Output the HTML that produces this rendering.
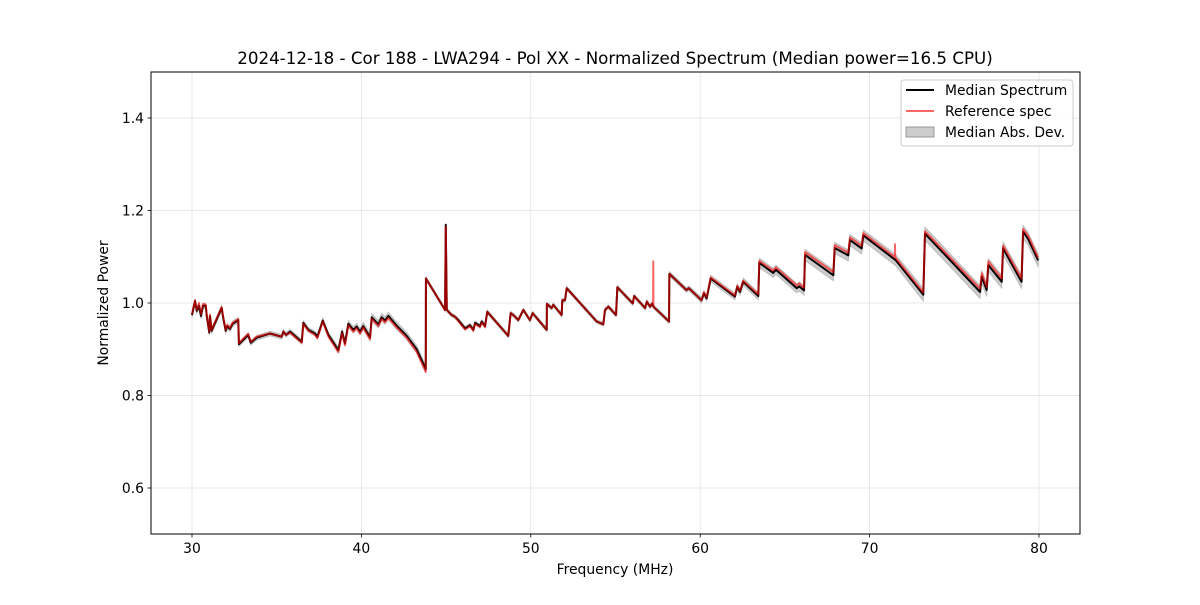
<!DOCTYPE html>
<html><head><meta charset="utf-8"><style>
body{margin:0;background:#fff;}
svg text{font-family:"DejaVu Sans","Liberation Sans",sans-serif;fill:#000;}
</style></head><body>
<svg id="chart" width="1200" height="600" xmlns="http://www.w3.org/2000/svg">
<rect x="0" y="0" width="1200" height="600" fill="#fff"/>
<g id="grid"></g>
<g id="series"></g>
<rect x="151" y="72" width="929" height="462" fill="none" stroke="#000" stroke-width="1"/>
<g id="ticks"></g>
<text x="615" y="64" text-anchor="middle" font-size="16.7">2024-12-18 - Cor 188 - LWA294 - Pol XX - Normalized Spectrum (Median power=16.5 CPU)</text>
<text x="615" y="574" text-anchor="middle" font-size="13.9">Frequency (MHz)</text>
<text x="108" y="303" text-anchor="middle" font-size="13.9" transform="rotate(-90 108 303)">Normalized Power</text>
<g>
<rect x="901" y="80" width="172" height="66" rx="3" fill="#fff" fill-opacity="0.8" stroke="#ccc"/>
<line x1="906" y1="90" x2="934" y2="90" stroke="#000" stroke-width="2"/>
<text x="945" y="95" font-size="13.9">Median Spectrum</text>
<line x1="906" y1="111" x2="934" y2="111" stroke="#ff0000" stroke-opacity="0.6" stroke-width="2"/>
<text x="945" y="116" font-size="13.9">Reference spec</text>
<rect x="906" y="127" width="28" height="10" fill="#999" fill-opacity="0.5" stroke="#999"/>
<text x="945" y="137" font-size="13.9">Median Abs. Dev.</text>
</g>
</svg>
<script>
const xTicks=[30,40,50,60,70,80];
const yTicks=[0.6,0.8,1.0,1.2,1.4];
const yTickLabels=["0.6","0.8","1.0","1.2","1.4"];
const freq=[30.0,30.18,30.28,30.41,30.53,30.65,30.81,30.87,31.02,31.06,31.16,31.75,31.85,31.99,32.08,32.24,32.40,32.73,32.77,33.32,33.47,33.82,34.60,35.30,35.39,35.55,35.79,36.48,36.57,36.87,37.26,37.40,37.72,38.05,38.64,38.86,39.03,39.23,39.52,39.72,39.92,40.11,40.51,40.61,41.00,41.20,41.39,41.59,42.08,42.67,43.26,43.80,43.81,44.94,44.98,45.04,45.33,45.53,45.72,46.12,46.41,46.61,46.71,47.00,47.10,47.30,47.43,48.67,48.81,48.97,49.26,49.56,49.95,50.11,50.94,50.95,51.23,51.33,51.82,51.86,52.02,52.12,53.89,54.28,54.38,54.58,55.03,55.11,56.02,56.10,56.75,56.85,57.04,57.17,57.22,57.23,57.24,58.16,58.18,59.19,59.33,60.08,60.22,60.38,60.62,62.05,62.19,62.35,62.54,63.43,63.49,64.31,64.47,65.70,65.85,66.13,66.19,67.86,67.94,68.74,68.84,69.53,69.63,71.49,71.50,71.51,73.17,73.27,76.52,76.62,76.91,77.01,77.80,77.88,78.97,79.06,79.35,79.95];
const median=[0.974,1.004,0.983,0.994,0.972,0.994,0.994,0.972,0.936,0.972,0.940,0.989,0.966,0.940,0.950,0.944,0.955,0.963,0.911,0.931,0.914,0.925,0.934,0.927,0.938,0.931,0.938,0.916,0.957,0.942,0.934,0.927,0.962,0.931,0.898,0.938,0.913,0.955,0.942,0.949,0.938,0.950,0.926,0.969,0.954,0.969,0.962,0.972,0.951,0.929,0.900,0.857,1.053,0.985,1.169,0.985,0.974,0.970,0.963,0.945,0.952,0.942,0.957,0.950,0.960,0.950,0.981,0.929,0.978,0.974,0.963,0.985,0.963,0.978,0.942,0.998,0.989,0.996,0.974,1.006,1.006,1.032,0.960,0.954,0.985,0.992,0.974,1.034,0.999,1.015,0.989,1.003,0.992,0.999,0.993,0.993,0.992,0.960,1.063,1.028,1.032,1.006,1.021,1.010,1.053,1.014,1.035,1.024,1.046,1.015,1.087,1.065,1.072,1.032,1.036,1.027,1.104,1.060,1.119,1.103,1.136,1.118,1.146,1.094,1.094,1.094,1.018,1.150,1.024,1.057,1.028,1.082,1.046,1.118,1.046,1.154,1.139,1.092];
const ref=[0.976,1.006,0.985,1.000,0.976,0.998,0.996,0.974,0.938,0.974,0.942,0.991,0.968,0.942,0.952,0.946,0.957,0.965,0.913,0.933,0.916,0.927,0.934,0.927,0.938,0.931,0.936,0.914,0.955,0.940,0.931,0.924,0.960,0.928,0.894,0.935,0.909,0.952,0.938,0.946,0.934,0.947,0.922,0.966,0.950,0.966,0.958,0.968,0.947,0.925,0.895,0.851,1.053,0.985,1.165,0.985,0.974,0.970,0.961,0.943,0.950,0.940,0.955,0.948,0.958,0.948,0.981,0.929,0.978,0.974,0.963,0.985,0.963,0.978,0.942,0.998,0.989,0.996,0.974,1.006,1.006,1.032,0.960,0.954,0.985,0.992,0.974,1.034,0.999,1.015,0.989,1.003,0.992,0.999,0.993,1.090,0.992,0.960,1.063,1.028,1.032,1.006,1.023,1.012,1.055,1.016,1.037,1.026,1.048,1.019,1.091,1.070,1.077,1.038,1.042,1.033,1.110,1.067,1.125,1.109,1.142,1.124,1.151,1.099,1.127,1.099,1.023,1.155,1.031,1.064,1.035,1.090,1.053,1.124,1.053,1.160,1.146,1.098];
const mad=[0.006,0.006,0.006,0.006,0.006,0.006,0.006,0.006,0.006,0.006,0.006,0.006,0.006,0.006,0.006,0.006,0.006,0.006,0.005,0.005,0.005,0.005,0.005,0.005,0.005,0.005,0.005,0.005,0.005,0.005,0.005,0.005,0.005,0.006,0.006,0.007,0.007,0.007,0.007,0.007,0.007,0.008,0.008,0.008,0.008,0.008,0.008,0.008,0.008,0.008,0.008,0.008,0.004,0.004,0.004,0.004,0.004,0.004,0.004,0.004,0.004,0.004,0.004,0.004,0.004,0.004,0.004,0.004,0.004,0.004,0.004,0.004,0.004,0.004,0.004,0.004,0.004,0.004,0.004,0.004,0.004,0.004,0.004,0.004,0.004,0.004,0.004,0.004,0.004,0.004,0.004,0.004,0.004,0.004,0.004,0.004,0.004,0.004,0.005,0.005,0.005,0.006,0.006,0.006,0.007,0.007,0.007,0.007,0.008,0.008,0.010,0.010,0.010,0.010,0.010,0.010,0.012,0.012,0.012,0.012,0.012,0.012,0.012,0.012,0.012,0.012,0.014,0.014,0.014,0.014,0.014,0.014,0.014,0.014,0.014,0.014,0.014,0.014];
const NS="http://www.w3.org/2000/svg";
const X=f=>192+(f-30)*(1039-192)/50;
const Y=v=>303-(v-1)*462.5;
function mk(tag,attrs,parent){const e=document.createElementNS(NS,tag);for(const k in attrs)e.setAttribute(k,attrs[k]);parent.appendChild(e);return e;}
const grid=document.getElementById('grid'),ticks=document.getElementById('ticks'),series=document.getElementById('series');
xTicks.forEach(t=>{
  const g=mk('line',{x1:X(t),x2:X(t),y1:72,y2:534,stroke:'#b0b0b0','stroke-opacity':0.35,'stroke-width':0.8},grid);
  
  
  const tk=mk('line',{x1:X(t),x2:X(t),y1:534,y2:537.5,stroke:'#000','stroke-width':0.8},ticks);
  
  
  const tl=mk('text',{x:X(t),y:553,'text-anchor':'middle','font-size':13.9},ticks);
  tl.textContent=String(t);
  
  
});
yTicks.forEach((t,i)=>{
  const g=mk('line',{x1:151,x2:1080,y1:Y(t),y2:Y(t),stroke:'#b0b0b0','stroke-opacity':0.35,'stroke-width':0.8},grid);
  
  
  const tk=mk('line',{x1:147.5,x2:151,y1:Y(t),y2:Y(t),stroke:'#000','stroke-width':0.8},ticks);
  
  
  const tl=mk('text',{x:144,y:Y(t)+5,'text-anchor':'end','font-size':13.9},ticks);
  tl.textContent=yTickLabels[i];
  
  
});
let up=freq.map((f,i)=>X(f).toFixed(2)+','+Y(median[i]+mad[i]).toFixed(2));
let dn=freq.map((f,i)=>X(f).toFixed(2)+','+Y(median[i]-mad[i]).toFixed(2)).reverse();
const band=mk('polygon',{points:up.concat(dn).join(' '),fill:'#999','fill-opacity':0.5,stroke:'#999','stroke-opacity':0.5,'stroke-width':1},series);


const ml=mk('polyline',{points:freq.map((f,i)=>X(f).toFixed(2)+','+Y(median[i]).toFixed(2)).join(' '),fill:'none',stroke:'#000','stroke-width':2,'stroke-linejoin':'round'},series);


const rl=mk('polyline',{points:freq.map((f,i)=>X(f).toFixed(2)+','+Y(ref[i]).toFixed(2)).join(' '),fill:'none',stroke:'#ff0000','stroke-opacity':0.6,'stroke-width':2,'stroke-linejoin':'round'},series);


</script>
</body></html>
